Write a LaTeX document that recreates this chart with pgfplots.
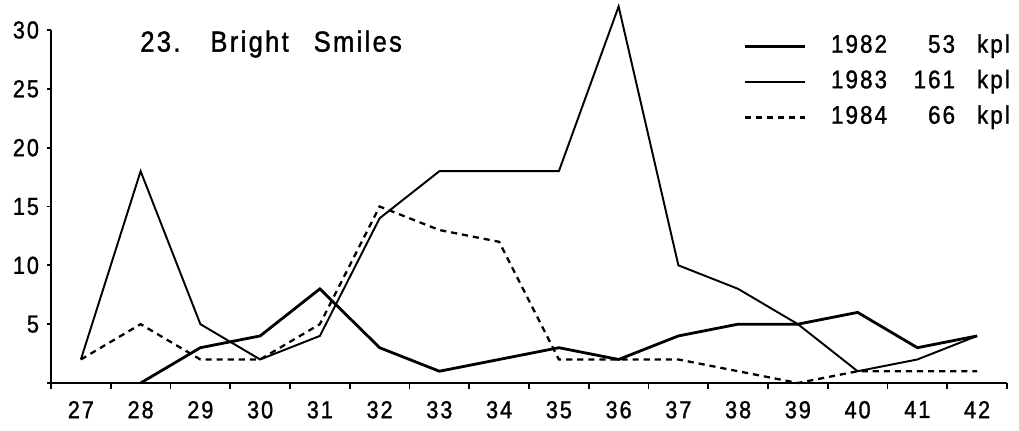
\documentclass[border=0pt]{standalone}
\usepackage{fontspec}
\setmainfont{Liberation Sans}[FakeStretch=0.88,LetterSpace=8,FakeBold=1.2]
\usepackage{pgfplots}
\pgfplotsset{compat=1.18}
\begin{document}
\fontsize{14}{16}\selectfont
\begin{tikzpicture}
\begin{axis}[scale only axis,width=19.12cm,height=7.06cm,
 xmin=26.5,xmax=42.5,ymin=0,ymax=30,clip=false,
 axis lines=left,axis line style={-,line width=1.2pt},
 tick align=outside,
 xtick={27,...,42},major x tick style={draw=none},
 minor xtick={26.5,27.5,...,42.5},
 minor tick length=0.12cm,major tick length=0.07cm,
 ytick={0,5,...,30},yticklabels={,5,10,15,20,25,30},
 tick style={line width=1pt,black},
 ticklabel style={font=\fontsize{14}{16}\selectfont},
 xticklabel style={yshift=-0.12cm},
 /pgf/number format/assume math mode=true,
 legend style={at={(axis cs:38.08,29.5)},anchor=north west,draw=none,fill=none,inner sep=0pt,
   row sep=0.3cm,font=\fontsize{14.5}{16}\selectfont,
   nodes={inner sep=0pt,text height=0.33cm,text depth=0.08cm}},
 legend cell align=left,
 legend image code/.code={\draw[#1] (0cm,0cm) -- (1.2cm,0cm); \path (1.7cm,0cm);},
]
\addplot[black,line width=1.6pt] coordinates {(28,0) (29,3) (30,4) (31,8) (32,3) (33,1) (34,2) (35,3) (36,2) (37,4) (38,5) (39,5) (40,6) (41,3) (42,4)};
\addlegendentry{\makebox[1.6cm][l]{1982}\makebox[0.88cm][r]{53}\hspace{0.44cm}kpl}
\addplot[black,line width=1.1pt] coordinates {(27,2) (28,18) (29,5) (30,2) (31,4) (32,14) (33,18) (34,18) (35,18) (36,32) (37,10) (38,8) (39,5) (40,1) (41,2) (42,4)};
\addlegendentry{\makebox[1.6cm][l]{1983}\makebox[0.88cm][r]{161}\hspace{0.44cm}kpl}
\addplot[black,line width=1.3pt,dash pattern=on 3.5pt off 2.8pt] coordinates {(27,2) (28,5) (29,2) (30,2) (31,5) (32,15) (33,13) (34,12) (35,2) (36,2) (37,2) (38,1) (39,0) (40,1) (41,1) (42,1)};
\addlegendentry{\makebox[1.6cm][l]{1984}\makebox[0.88cm][r]{66}\hspace{0.44cm}kpl}
\node[anchor=west,inner sep=0pt,font=\fontsize{16.5}{18}\selectfont] at (axis cs:27.99,28.8) {23.\hspace{0.6cm}Bright\hspace{0.5cm}Smiles};
\end{axis}
\path (-1.02,-0.94) rectangle (19.36,7.66);
\end{tikzpicture}
\end{document}
